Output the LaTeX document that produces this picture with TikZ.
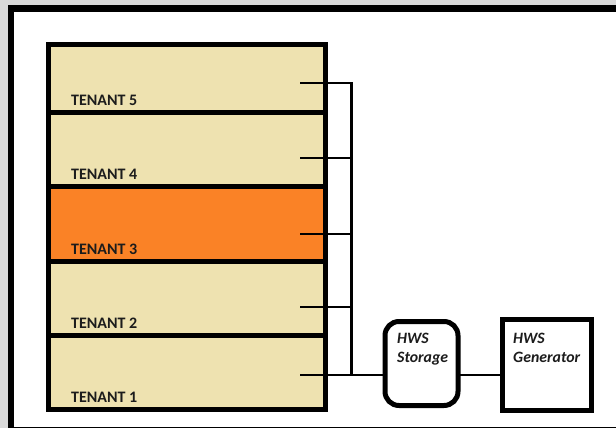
\documentclass[tikz,border=0pt]{standalone}
\usepackage{fontspec}
\setmainfont{Carlito}
\usetikzlibrary{positioning}
\definecolor{tenantfill}{HTML}{EEE2B0}
\definecolor{activefill}{HTML}{FA8226}
\definecolor{framegrey}{HTML}{D9D9D9}
\definecolor{inktext}{HTML}{1C1C1C}
\tikzset{
    tenant/.style={rectangle, draw=black, fill=tenantfill, line width=5pt, outer sep=0pt, inner sep=0pt, minimum width=277pt, minimum height=74.3pt},
    tlabel/.style={anchor=base west, inner sep=0pt, xshift=23pt, yshift=7pt, text=inktext, font=\bfseries\fontsize{16}{19}\selectfont},
    unit/.style={rectangle, draw=black, fill=white, line width=5pt, outer sep=0pt, inner sep=0pt},
    ulabel/.style={anchor=north west, align=left, inner sep=0pt, text=inktext, font=\bfseries\itshape\fontsize{15.8}{19}\selectfont},
    pipe/.style={draw=black, line width=2.6pt}
}
\begin{document}
\begin{tikzpicture}[x=1pt, y=-1pt]
    \useasboundingbox (0,0) rectangle (616,428);
    % frame
    \fill[framegrey] (0,0) rectangle (616,428);
    \fill[white] (14,12) rectangle (616,428);
    \fill[black] (8,5) rectangle (616,12);
    \fill[black] (8,5) rectangle (14,428);
    \fill[black] (14,426.5) rectangle (616,428);

    % tenant stack
    \node (tenant1) [tenant, label={[tlabel]south west:TENANT 1}] at (186.5,372.5) {};
    \node (tenant2) [tenant, above=0pt of tenant1, label={[tlabel]south west:TENANT 2}] {};
    \node (tenant3) [tenant, fill=activefill, above=0pt of tenant2, label={[tlabel]south west:TENANT 3}] {};
    \node (tenant4) [tenant, above=0pt of tenant3, label={[tlabel]south west:TENANT 4}] {};
    \node (tenant5) [tenant, minimum height=68pt, above=0pt of tenant4, label={[tlabel]south west:TENANT 5}] {};

    % hot water units
    \node (storage) [unit, rounded corners=14pt, minimum width=73pt, minimum height=84pt, label={[ulabel, xshift=12pt, yshift=-11.5pt]north west:{HWS\\Storage}}] at (421.5,363.5) {};
    \node (generator) [unit, minimum width=89pt, minimum height=91pt, label={[ulabel, xshift=10.5pt, yshift=-13.5pt]north west:{HWS\\Generator}}] at (547,365) {};

    % pipework
    \foreach \n/\y in {5/83,4/158,3/234,2/307,1/375} {
        \coordinate (tap\n) at (300,\y);
        \coordinate (bus\n) at (351.5,\y);
    }
    \draw [pipe] (tap5) -- (bus5) -- (bus1) -- (bus1 -| storage.west);
    \foreach \n in {4,3,2,1}
        \draw [pipe] (tap\n) -- (bus\n);
    \draw [pipe] (storage.east |- bus1) -- (generator.west |- bus1);
\end{tikzpicture}
\end{document}
